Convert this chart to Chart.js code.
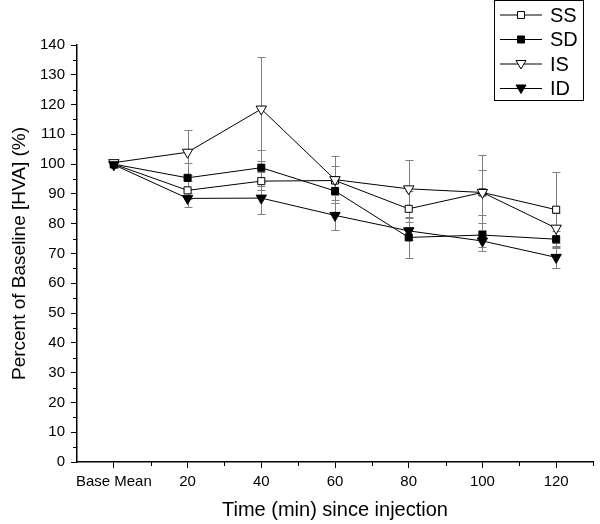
<!DOCTYPE html>
<html>
<head>
<meta charset="utf-8">
<script src="https://cdn.jsdelivr.net/npm/chart.js@4/dist/chart.umd.min.js"></script>
<style>
  html, body { margin: 0; background: #fff; }
  #wrap { width: 600px; height: 524px; }
</style>
</head>
<body>
<div id="wrap"><canvas id="main-graph"></canvas></div>
<script>
// time points (min), 0 = base mean
const times = [0, 20, 40, 60, 80, 100, 120];
const timeLabels = ["Base Mean", "20", "40", "60", "80", "100", "120"];

const ss = [100, 91.2, 94.3, 94.5, 85.0, 90.5, 84.7];
const ssErr = [1, 3, 3, 5, 6, 7.5, 12.5];
const sd = [100, 95.4, 98.8, 91.0, 75.4, 76.2, 74.8];
const sdErr = [1, 5, 6, 4, 7, 4, 2.8];
const is = [100.5, 104.0, 118.5, 94.8, 91.7, 90.5, 78.5];
const isErr = [1, 7.5, 17.5, 8, 9.8, 12.5, 5];
const id = [99.8, 88.5, 88.6, 82.8, 77.6, 74.2, 68.7];
const idErr = [1, 3, 5.5, 5, 3, 3.5, 3.7];

const FONT = "'Liberation Sans', Arial, sans-serif";

function pts(vals) {
  return vals.map((v, i) => ({ x: times[i], y: v }));
}

function series(label, vals, errs, style, filled, order) {
  return {
    label: label,
    data: pts(vals),
    errors: errs,
    order: order,
    borderColor: "#000",
    borderWidth: 1,
    backgroundColor: filled ? "#000" : "#fff",
    pointStyle: style,
    pointRotation: style === "triangle" ? 180 : 0,
    pointRadius: style === "triangle" ? 6 : 5,
    pointBorderWidth: 1,
    pointBorderColor: "#000",
    pointBackgroundColor: filled ? "#000" : "#fff",
    tension: 0,
  };
}

// vertical error bars, drawn behind the lines
const errorBars = {
  id: "errorBars",
  beforeDatasetsDraw(chart) {
    const { ctx, scales: { x, y } } = chart;
    ctx.save();
    ctx.strokeStyle = "#808080";
    ctx.lineWidth = 1;
    chart.data.datasets.forEach((ds) => {
      ds.data.forEach((p, i) => {
        const e = ds.errors[i];
        const px = Math.round(x.getPixelForValue(p.x)) + 0.5;
        const top = Math.round(y.getPixelForValue(p.y + e)) + 0.5;
        const bot = Math.round(y.getPixelForValue(p.y - e)) + 0.5;
        ctx.beginPath();
        ctx.moveTo(px, top); ctx.lineTo(px, bot);
        ctx.moveTo(px - 4, top); ctx.lineTo(px + 4, top);
        ctx.moveTo(px - 4, bot); ctx.lineTo(px + 4, bot);
        ctx.stroke();
      });
    });
    ctx.restore();
  },
};

// minor ticks + boxed legend
const extras = {
  id: "extras",
  afterDraw(chart) {
    const { ctx, scales: { x, y } } = chart;
    ctx.save();
    ctx.strokeStyle = "#000";
    ctx.lineWidth = 1;
    ctx.beginPath();
    for (let v = 5; v < 140; v += 10) {
      const py = Math.round(y.getPixelForValue(v)) + 0.5;
      ctx.moveTo(x.left - 4, py); ctx.lineTo(x.left, py);
    }
    for (let v = 10; v <= 130; v += 20) {
      const px = Math.round(x.getPixelForValue(v)) + 0.5;
      ctx.moveTo(px, y.bottom); ctx.lineTo(px, y.bottom + 4);
    }
    ctx.stroke();

    // legend
    const bx = 494.5, by = 0.5, bw = 89, bh = 100;
    ctx.fillStyle = "#fff";
    ctx.fillRect(bx, by, bw, bh);
    ctx.strokeRect(bx, by, bw, bh);
    ctx.font = "20px " + FONT;
    ctx.textBaseline = "middle";
    chart.data.datasets.forEach((ds, i) => {
      const ry = 15 + i * 24.5;
      ctx.beginPath();
      ctx.moveTo(500, ry); ctx.lineTo(542, ry);
      ctx.stroke();
      const cx = 521;
      ctx.beginPath();
      if (ds.pointStyle === "rect") {
        ctx.rect(cx - 3.5, ry - 3.5, 7, 7);
      } else {
        ctx.moveTo(cx - 5, ry - 3.5);
        ctx.lineTo(cx + 5, ry - 3.5);
        ctx.lineTo(cx, ry + 5);
        ctx.closePath();
      }
      ctx.fillStyle = ds.pointBackgroundColor;
      ctx.fill();
      ctx.stroke();
      ctx.fillStyle = "#000";
      ctx.fillText(ds.label, 550, ry + 1);
    });
    ctx.restore();
  },
};

const ctx4 = document.getElementById("main-graph");

new Chart(ctx4, {
  type: "line",
  data: {
    datasets: [
      series("SS", ss, ssErr, "rect", false, 3),
      series("SD", sd, sdErr, "rect", true, 2),
      series("IS", is, isErr, "triangle", false, 1),
      series("ID", id, idErr, "triangle", true, 0),
    ],
  },
  options: {
    animation: false,
    responsive: true,
    maintainAspectRatio: false,
    layout: { padding: { top: 45, right: 6, left: 0, bottom: 0 } },
    scales: {
      x: {
        type: "linear",
        min: -10,
        max: 130,
        afterBuildTicks: (scale) => {
          scale.ticks = times.map((t) => ({ value: t }));
        },
        afterFit: (scale) => { scale.height = 62; },
        ticks: {
          color: "#000",
          font: { family: FONT, size: 15 },
          padding: 5,
          maxRotation: 0,
          autoSkip: false,
          callback: (v) => timeLabels[times.indexOf(v)],
        },
        grid: {
          drawOnChartArea: false,
          tickLength: 6,
          tickColor: "#000",
        },
        border: { color: "#000", width: 1.5 },
        title: {
          display: true,
          text: "Time (min) since injection",
          color: "#000",
          font: { family: FONT, size: 20 },
          padding: { top: 0, bottom: 2 },
        },
      },
      y: {
        min: 0,
        max: 140,
        afterFit: (scale) => { scale.width = 77; },
        ticks: {
          stepSize: 10,
          color: "#000",
          font: { family: FONT, size: 15 },
          padding: 6,
        },
        grid: {
          drawOnChartArea: false,
          tickLength: 6,
          tickColor: "#000",
        },
        border: { color: "#000", width: 1.5 },
        title: {
          display: true,
          text: "Percent of Baseline [HVA] (%)",
          color: "#000",
          font: { family: FONT, size: 19 },
          padding: { top: 8, bottom: 0 },
        },
      },
    },
    plugins: {
      legend: { display: false },
      tooltip: { enabled: false },
    },
  },
  plugins: [errorBars, extras],
});
</script>
</body>
</html>
